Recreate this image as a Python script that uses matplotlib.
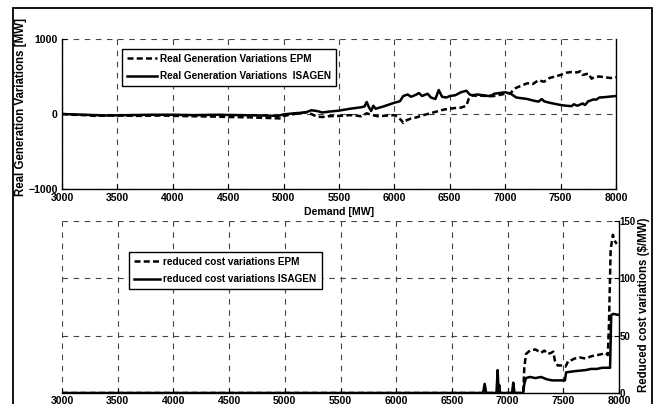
import matplotlib
matplotlib.use("Agg")
import matplotlib.pyplot as plt
from matplotlib.patches import Rectangle
from matplotlib.font_manager import FontProperties

# ---- Real generation variations [MW] versus demand [MW] ----
gen_epm_x = [3000, 3100, 3200, 3300, 3400, 3500, 3700, 3900, 4000, 4200, 4400, 4500,
             4700, 4900, 4980, 5000, 5050, 5100, 5150, 5200, 5250, 5300, 5350, 5400,
             5500, 5600, 5650, 5700, 5750, 5800, 5850, 5900, 5950, 6000, 6030, 6060,
             6080, 6100, 6150, 6200, 6250, 6300, 6350, 6400, 6450, 6500, 6550, 6600,
             6650, 6670, 6700, 6750, 6800, 6850, 6900, 6950, 7000, 7050, 7080, 7100,
             7150, 7200, 7250, 7300, 7350, 7400, 7450, 7500, 7550, 7600, 7650, 7680,
             7700, 7750, 7780, 7800, 7850, 7900, 7950, 8000]
gen_epm_y = [0, -10, -15, -25, -20, -20, -25, -20, -25, -30, -35, -40,
             -45, -55, -60, -30, -10, 0, 10, 25, 0, -35, -40, -30,
             -25, -15, -20, -30, 10, -15, -30, -25, -20, -15, -40, -80,
             -120, -90, -60, -45, -20, 0, 20, 40, 60, 70, 80, 85,
             110, 200, 250, 240, 245, 235, 240, 255, 270, 280, 330, 350,
             380, 410, 400, 450, 430, 480, 500, 520, 550, 560, 555, 570,
             520, 540, 470, 490, 500, 490, 480, 490]

gen_isa_x = [3000, 3200, 3400, 3600, 3800, 4000, 4200, 4400, 4600, 4800, 4950, 5000,
             5100, 5200, 5250, 5300, 5350, 5400, 5500, 5600, 5700, 5730, 5750, 5770,
             5790, 5810, 5830, 5900, 6000, 6050, 6080, 6120, 6150, 6200, 6220, 6250,
             6300, 6330, 6370, 6400, 6430, 6470, 6500, 6550, 6600, 6650, 6680, 6700,
             6750, 6800, 6850, 6880, 6900, 6950, 7000, 7050, 7100, 7150, 7200, 7250,
             7300, 7330, 7350, 7400, 7500, 7550, 7600, 7620, 7650, 7700, 7720, 7750,
             7800, 7820, 7850, 7900, 8000]
gen_isa_y = [0, -10, -20, -15, -10, -10, -15, -10, -15, -20, -25, -5,
             10, 20, 50, 40, 20, 30, 45, 70, 90, 100, 160, 90,
             40, 110, 70, 100, 150, 170, 240, 260, 230, 260, 280, 240,
             270, 220, 200, 320, 230, 220, 240, 250, 290, 310, 260, 250,
             260, 250, 240, 250, 270, 280, 290, 270, 220, 210, 200, 180,
             165, 200, 170, 150, 120, 110, 105, 130, 110, 140, 120, 170,
             195, 190, 220, 225, 240]

# ---- Reduced cost variations ($/MW) versus demand [MW] ----
cost_epm_x = [3000, 5000, 7140, 7150, 7165, 7200, 7250, 7300, 7330, 7360, 7390, 7410,
              7425, 7450, 7500, 7520, 7545, 7560, 7600, 7650, 7700, 7750, 7800, 7850,
              7880, 7900, 7910, 7925, 7945, 7960, 7980]
cost_epm_y = [0, 0, 0, 22, 34, 37, 38, 35, 37, 34, 35, 36,
              28, 24, 24, 23, 28, 28, 30, 31, 30, 32, 33, 34,
              35, 33, 60, 125, 138, 133, 130]

cost_isa_x = [3000, 5000, 6780, 6794, 6808, 6900, 6911, 6918, 6925, 6932, 7040, 7051,
              7062, 7140, 7150, 7165, 7200, 7250, 7300, 7350, 7400, 7500, 7515, 7525,
              7600, 7700, 7750, 7800, 7850, 7900, 7920, 7930, 7950, 8000]
cost_isa_y = [0, 0, 0, 8, 0, 0, 20, 2, 7, 0, 0, 9,
              0, 0, 8, 13, 14, 13, 14, 12, 11, 11, 11, 18,
              19, 20, 21, 21, 22, 22, 22, 68, 69, 68]

x_ticks = [3000, 3500, 4000, 4500, 5000, 5500, 6000, 6500, 7000, 7500, 8000]
gen_ticks = [-1000, 0, 1000]
cost_ticks = [0, 50, 100, 150]

W, H = 654, 404
fig = plt.figure(figsize=(W / 100, H / 100), dpi=100)
fig.patch.set_facecolor("white")

FAMILY = ["Liberation Sans Narrow", "Liberation Sans", "DejaVu Sans"]
tick_font = dict(family=FAMILY, weight="bold", size=7.6)
small_tick_font = dict(family=FAMILY, weight="bold", size=7.0)
legend_font = dict(family=FAMILY, weight="bold", size=7.2)
label_font = dict(family=["Liberation Sans", "DejaVu Sans"], weight="bold", size=8.3)


def px_axes(x0, y0, x1, y1):
    return fig.add_axes([x0 / W, 1 - y1 / H, (x1 - x0) / W, (y1 - y0) / H])


grid_kw = dict(color="#444444", linestyle=(0, (5, 5)), linewidth=0.8)
dash_kw = dict(color="black", linewidth=1.8, linestyle=(0, (2.4, 1.3)))
solid_kw = dict(color="black", linewidth=1.8)
legend_kw = dict(loc="upper left", frameon=True, fancybox=False, edgecolor="black",
                 framealpha=1, prop=FontProperties(**legend_font), handletextpad=0.3,
                 borderpad=0.5, labelspacing=0.75, borderaxespad=0)

# Upper panel
ax1 = px_axes(62, 39, 616, 189)
ax1.plot(gen_epm_x, gen_epm_y, label="Real Generation Variations EPM", **dash_kw)
ax1.plot(gen_isa_x, gen_isa_y, label="Real Generation Variations  ISAGEN", **solid_kw)
ax1.set_xlim(3000, 8000)
ax1.set_ylim(-1000, 1000)
ax1.set_xticks(x_ticks)
ax1.set_yticks(gen_ticks)
ax1.grid(True, **grid_kw)
ax1.spines["top"].set_visible(False)
for s in ("left", "bottom", "right"):
    ax1.spines[s].set_linewidth(1.0)
ax1.tick_params(direction="in", length=3.5, width=0.8, pad=3)
for lab in ax1.get_xticklabels() + ax1.get_yticklabels():
    lab.set_fontproperties(FontProperties(**tick_font))
ax1.set_xlabel("Demand [MW]", labelpad=3, **tick_font)
leg1 = ax1.legend(bbox_to_anchor=(0.109, 0.935), handlelength=3.0, **legend_kw)
leg1.get_frame().set_linewidth(1.0)
fig.text(21 / W, 1 - 107 / H, "Real Generation Variations [MW]", rotation=90,
         ha="center", va="center", **label_font)

# Lower panel
ax2 = px_axes(62, 221, 619, 393)
ax2.plot(cost_epm_x, cost_epm_y, label="reduced cost variations EPM", **dash_kw)
ax2.plot(cost_isa_x, cost_isa_y, label="reduced cost variations ISAGEN", **solid_kw)
ax2.set_xlim(3000, 8000)
ax2.set_ylim(0, 150)
ax2.set_xticks(x_ticks)
ax2.set_yticks(cost_ticks)
ax2.yaxis.tick_right()
ax2.grid(True, **grid_kw)
ax2.spines["top"].set_visible(False)
ax2.spines["left"].set_visible(False)
for s in ("bottom", "right"):
    ax2.spines[s].set_linewidth(1.0)
ax2.tick_params(direction="in", length=3.5, width=0.8, pad=2)
ax2.tick_params(axis="y", pad=0.5)
for lab in ax2.get_xticklabels():
    lab.set_fontproperties(FontProperties(**tick_font))
for lab in ax2.get_yticklabels():
    lab.set_fontproperties(FontProperties(**small_tick_font))
leg2 = ax2.legend(bbox_to_anchor=(0.121, 0.82), handlelength=2.6, **legend_kw)
leg2.get_frame().set_linewidth(1.0)
fig.text(644 / W, 1 - 305 / H, "Reduced cost variations ($/MW)", rotation=90,
         ha="center", va="center", **label_font)

# Outer frame around the figure
fig.patches.append(Rectangle((12.5 / W, -0.05), (651.5 - 12.5) / W, 1.05 - 8 / H,
                             transform=fig.transFigure, fill=False,
                             edgecolor="black", linewidth=1.3))

fig.savefig("out.png", dpi=100)
